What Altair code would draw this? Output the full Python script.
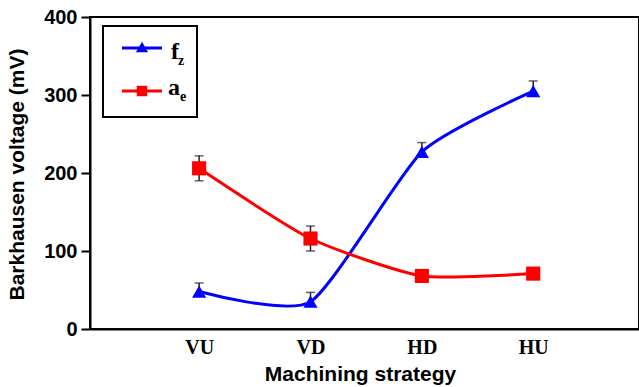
import altair as alt
import pandas as pd

categories = ["VU", "VD", "HD", "HU"]
positions = [1, 2, 3, 4]
fz_values = [48, 35, 227, 305]
fz_err_up = [11, 12, 12, 13]
fz_err_down = [0, 0, 0, 0]
ae_values = [206, 116, 68, 71]
ae_err_up = [16, 16, 3, 3]
ae_err_down = [16, 16, 3, 3]
series_names = ["fz", "ae"]
series_colors = ["#0000ff", "#ff0000"]
series_shapes = ["triangle-up", "square"]

rows = []
for name, vals, eu, ed in [("fz", fz_values, fz_err_up, fz_err_down),
                           ("ae", ae_values, ae_err_up, ae_err_down)]:
    for c, p, v, u, d in zip(categories, positions, vals, eu, ed):
        rows.append({"series": name, "cat": c, "pos": p, "v": v, "lo": v - d, "hi": v + u, "hasLo": d > 0})
df = pd.DataFrame(rows)

label_expr = "[" + ",".join("'%s'" % c for c in categories) + "][round(datum.value)-1]"

x = alt.X("pos:Q", scale=alt.Scale(domain=[0.02, 4.95], nice=False, zero=False),
          axis=alt.Axis(values=positions, labelExpr=label_expr, ticks=False, grid=False,
                        labelFont="Liberation Serif", labelFontWeight="bold", labelFontSize=20,
                        labelColor="black", labelBaseline="alphabetic", labelPadding=24,
                        domainColor="black", domainWidth=2,
                        title="Machining strategy", titleFont="Liberation Sans",
                        titleFontWeight="bold", titleFontSize=21, titleColor="black",
                        titleX=270, titleY=51, titleBaseline="alphabetic", titleAlign="center"))
y = alt.Y("v:Q", scale=alt.Scale(domain=[0, 400], nice=False),
          axis=alt.Axis(values=[0, 100, 200, 300, 400], grid=False, tickSize=9, tickWidth=2,
                        tickColor="black", domainColor="black", domainWidth=2,
                        labelFont="Liberation Sans", labelFontWeight="bold", labelFontSize=20,
                        labelColor="black", labelPadding=4,
                        title="Barkhausen voltage (mV)", titleFont="Liberation Sans",
                        titleFontWeight="bold", titleFontSize=21, titleColor="black",
                        titleAngle=-90, titleX=-67, titleY=157, titleAlign="center",
                        titleBaseline="alphabetic"))
color = alt.Color("series:N", scale=alt.Scale(domain=series_names, range=series_colors), legend=None)
shape = alt.Shape("series:N", scale=alt.Scale(domain=series_names, range=series_shapes), legend=None)

base = alt.Chart(df)
lines = base.mark_line(interpolate="cardinal", tension=0.4, strokeWidth=3).encode(
    x=x, y=y, color=color, detail="series:N")
err_rule = base.mark_rule(color="#222222", strokeWidth=1.5).encode(x="pos:Q", y="lo:Q", y2="hi:Q")
cap_lo = base.transform_filter("datum.hasLo").mark_tick(
    orient="horizontal", size=9, thickness=1.5, color="#222222").encode(x="pos:Q", y="lo:Q")
cap_hi = base.mark_tick(orient="horizontal", size=9, thickness=1.5, color="#222222").encode(x="pos:Q", y="hi:Q")
points = base.mark_point(filled=True, size=200, opacity=1).encode(x="pos:Q", y="v:Q", color=color, shape=shape)

one = alt.Chart(pd.DataFrame({"k": [0]}))
leg_box = one.mark_rect(fill="white", stroke="black", strokeWidth=2).encode(
    x=alt.value(13), x2=alt.value(107), y=alt.value(9), y2=alt.value(100))
leg_line_b = one.mark_rule(color="#0000ff", strokeWidth=3).encode(
    x=alt.value(32), x2=alt.value(72), y=alt.value(31))
leg_line_r = one.mark_rule(color="#ff0000", strokeWidth=3).encode(
    x=alt.value(32), x2=alt.value(72), y=alt.value(74))
leg_pt_b = one.mark_point(shape="triangle-up", filled=True, size=150, color="#0000ff", opacity=1).encode(
    x=alt.value(52), y=alt.value(30))
leg_pt_r = one.mark_point(shape="square", filled=True, size=110, color="#ff0000", opacity=1).encode(
    x=alt.value(52), y=alt.value(74))
tstyle = dict(font="Liberation Serif", fontWeight="bold", color="black", align="left", baseline="alphabetic")
t_f = one.mark_text(text="f", fontSize=24, **tstyle).encode(x=alt.value(81), y=alt.value(42))
t_z = one.mark_text(text="z", fontSize=14, **tstyle).encode(x=alt.value(88), y=alt.value(48))
t_a = one.mark_text(text="a", fontSize=24, **tstyle).encode(x=alt.value(78), y=alt.value(78))
t_e = one.mark_text(text="e", fontSize=14, **tstyle).encode(x=alt.value(90), y=alt.value(84))

chart = alt.layer(
    lines, err_rule, cap_lo, cap_hi, points,
    leg_box, leg_line_b, leg_line_r, leg_pt_b, leg_pt_r, t_f, t_z, t_a, t_e
).properties(
    width=549, height=312,
    autosize=alt.AutoSizeParams(type="none"),
    padding={"left": 90, "top": 17, "right": 0, "bottom": 58},
    background="white",
).configure_view(stroke="black", strokeWidth=2)

chart.save("out.html", embed_options={"renderer": "svg", "actions": False})
